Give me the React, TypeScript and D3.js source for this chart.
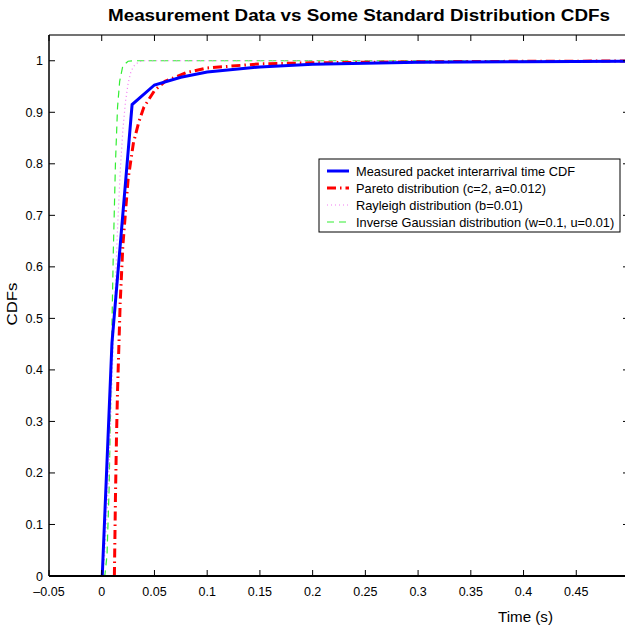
import React from "react";
import * as d3 from "d3";

const xTicks = [-0.05, 0, 0.05, 0.1, 0.15, 0.2, 0.25, 0.3, 0.35, 0.4, 0.45];
const xTickLabels = ["\u20130.05", "0", "0.05", "0.1", "0.15", "0.2", "0.25", "0.3", "0.35", "0.4", "0.45"];
const yTicks = [0, 0.1, 0.2, 0.3, 0.4, 0.5, 0.6, 0.7, 0.8, 0.9, 1];
const yTickLabels = ["0", "0.1", "0.2", "0.3", "0.4", "0.5", "0.6", "0.7", "0.8", "0.9", "1"];

const measuredX = [0.0005, 0.0097, 0.0288, 0.05, 0.075, 0.1, 0.15, 0.2, 0.25, 0.3, 0.4, 0.5];
const measuredY = [0, 0.452, 0.915, 0.953, 0.968, 0.978, 0.988, 0.993, 0.995, 0.997, 0.998, 0.999];

const paretoX = [0.012, 0.013, 0.014, 0.015, 0.0175, 0.02, 0.025, 0.03, 0.035, 0.04, 0.05, 0.06, 0.08, 0.1, 0.15, 0.2, 0.3, 0.4, 0.5];
const paretoY = [0, 0.15, 0.27, 0.36, 0.53, 0.64, 0.77, 0.84, 0.88, 0.91, 0.942, 0.96, 0.977, 0.986, 0.994, 0.996, 0.998, 0.999, 0.9995];

const rayleighX = [0, 0.0025, 0.005, 0.0075, 0.01, 0.0125, 0.015, 0.0175, 0.02, 0.0225, 0.025, 0.0275, 0.03, 0.035, 0.04, 0.5];
const rayleighY = [0, 0.03, 0.118, 0.245, 0.393, 0.542, 0.675, 0.784, 0.865, 0.92, 0.956, 0.977, 0.989, 0.998, 1.0, 1.0];

const invGaussX = [0.001, 0.003, 0.005, 0.007, 0.009, 0.01, 0.011, 0.013, 0.015, 0.017, 0.02, 0.025, 0.03, 0.5];
const invGaussY = [0, 0.002, 0.04, 0.17, 0.4, 0.52, 0.63, 0.8, 0.91, 0.96, 0.99, 0.999, 1.0, 1.0];

const legendLabels = [
  "Measured packet interarrival time CDF",
  "Pareto distribution (c=2, a=0.012)",
  "Rayleigh distribution (b=0.01)",
  "Inverse Gaussian distribution (w=0.1, u=0.01)",
];

const FONT = "'Liberation Sans', Arial, Helvetica, sans-serif";

export default function App() {
  const W = 625, H = 630;
  const left = 49, right = 629, top = 35, bottom = 576;
  const x = d3.scaleLinear().domain([-0.05, 0.5]).range([left, right]);
  const y = d3.scaleLinear().domain([0, 1.05]).range([bottom, top]);
  const line = d3.line<[number, number]>().x((d) => x(d[0])).y((d) => y(d[1]));
  const zip = (a: number[], b: number[]) => a.map((v, i) => [v, b[i]] as [number, number]);

  const series = [
    { d: zip(measuredX, measuredY), color: "#0000ff", width: 3, dash: undefined as string | undefined },
    { d: zip(paretoX, paretoY), color: "#ff0000", width: 3, dash: "9,4,1.5,4" },
    { d: zip(rayleighX, rayleighY), color: "#f27cf2", width: 1.2, dash: "1,3" },
    { d: zip(invGaussX, invGaussY), color: "#33ee33", width: 1.2, dash: "7,5" },
  ];
  const drawOrder = [3, 2, 1, 0];

  const tickLen = 6;
  const lg = { x: 319, y: 159, w: 301, h: 73 };
  const rowY = [171, 188, 205, 222];

  return (
    <svg width={W} height={H} style={{ position: "absolute", left: 0, top: 0, background: "#fff" }} fontFamily={FONT}>
      <rect x={0} y={0} width={W} height={H} fill="#fff" />
      <defs>
        <clipPath id="plotClip">
          <rect x={left} y={top} width={right - left} height={bottom - top} />
        </clipPath>
      </defs>
      <text x={359} y={21} textAnchor="middle" fontSize={16} fontWeight="bold" fill="#000"
        textLength={502} lengthAdjust="spacingAndGlyphs">
        Measurement Data vs Some Standard Distribution CDFs
      </text>
      <g clipPath="url(#plotClip)">
        {drawOrder.map((i) => {
          const s = series[i];
          return (
            <path key={i} d={line(s.d) || ""} fill="none" stroke={s.color} strokeWidth={s.width}
              strokeDasharray={s.dash} strokeLinejoin="miter" />
          );
        })}
      </g>
      <line x1={left} x2={right} y1={top} y2={top} stroke="#444" strokeWidth={1.5} />
      <line x1={left} x2={right} y1={bottom} y2={bottom} stroke="#000" strokeWidth={2} />
      <line x1={left} x2={left} y1={top} y2={bottom} stroke="#000" strokeWidth={1.5} />
      <line x1={right} x2={right} y1={top} y2={bottom} stroke="#000" strokeWidth={1.5} />
      {xTicks.map((t, i) => (
        <g key={"x" + i}>
          <line x1={x(t)} x2={x(t)} y1={bottom} y2={bottom - tickLen} stroke="#000" strokeWidth={1} />
          <line x1={x(t)} x2={x(t)} y1={top} y2={top + tickLen} stroke="#000" strokeWidth={1} />
          <text x={x(t)} y={596} textAnchor="middle" fontSize={12.5} fill="#000">{xTickLabels[i]}</text>
        </g>
      ))}
      {yTicks.map((t, i) => (
        <g key={"y" + i}>
          <line x1={left} x2={left + tickLen} y1={y(t)} y2={y(t)} stroke="#000" strokeWidth={1} />
          <line x1={right} x2={right - tickLen} y1={y(t)} y2={y(t)} stroke="#000" strokeWidth={1} />
          <text x={43} y={y(t) + 4.5} textAnchor="end" fontSize={12.5} fill="#000">{yTickLabels[i]}</text>
        </g>
      ))}
      <text x={525.5} y={622} textAnchor="middle" fontSize={14.5} fill="#000"
        textLength={55} lengthAdjust="spacingAndGlyphs">Time (s)</text>
      <text transform={`translate(17,304) rotate(-90)`} textAnchor="middle" fontSize={14.5} fill="#000"
        textLength={43} lengthAdjust="spacingAndGlyphs">CDFs</text>
      <rect x={lg.x} y={lg.y} width={lg.w} height={lg.h} fill="#fff" stroke="#000" strokeWidth={1} />
      {legendLabels.map((lab, i) => {
        const s = series[i];
        return (
          <g key={"l" + i}>
            <line x1={327} x2={349} y1={rowY[i]} y2={rowY[i]} stroke={s.color} strokeWidth={s.width}
              strokeDasharray={s.dash} />
            <text x={356} y={rowY[i] + 4.5} fontSize={12.8} fill="#000">{lab}</text>
          </g>
        );
      })}
    </svg>
  );
}
